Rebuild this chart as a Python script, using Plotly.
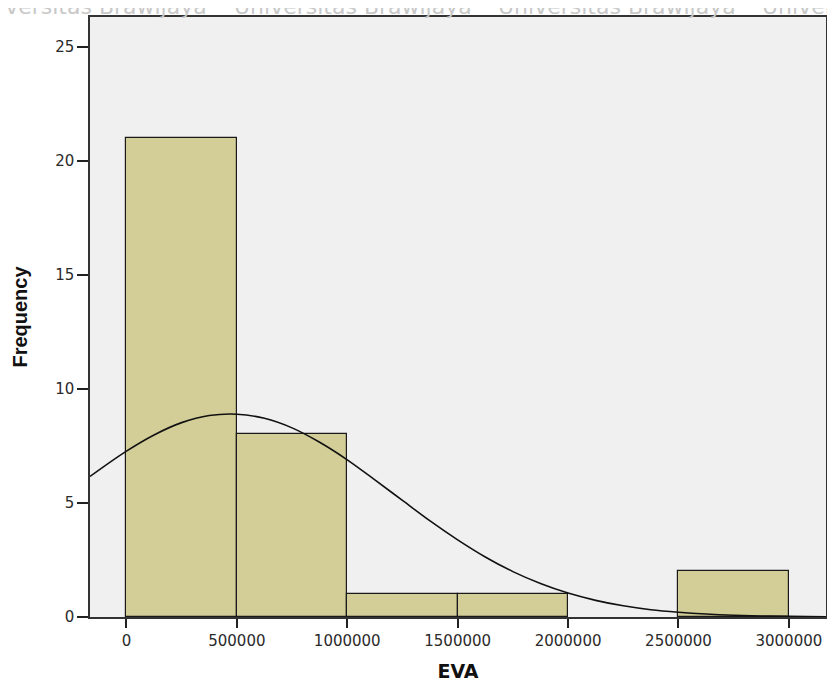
import plotly.graph_objects as go

# Histogram data (EVA)
bin_left = [0, 500000, 1000000, 1500000, 2000000, 2500000]
bin_width = 500000
counts = [21, 8, 1, 1, 0, 2]

# Normal curve points
curve_x = [-165000, 0, 125000, 250000, 375000, 500000, 625000, 750000, 875000,
           1000000, 1125000, 1250000, 1375000, 1500000, 1625000, 1750000, 1875000,
           2000000, 2125000, 2250000, 2375000, 2500000, 2625000, 2750000, 2875000,
           3000000, 3168000]
curve_y = [6.16, 7.27, 7.98, 8.52, 8.83, 8.89, 8.71, 8.29, 7.66,
           6.89, 6.01, 5.11, 4.21, 3.38, 2.63, 1.99, 1.47,
           1.05, 0.73, 0.49, 0.32, 0.21, 0.13, 0.077, 0.045,
           0.026, 0.011]

x_ticks = [0, 500000, 1000000, 1500000, 2000000, 2500000, 3000000]
x_tick_labels = [str(v) for v in x_ticks]
y_ticks = [0, 5, 10, 15, 20, 25]

watermark = "Universitas Brawijaya"
watermark_x = [-0.1667, 0.1924, 0.5515, 0.9106]

bar_x = [l + bin_width / 2 for l, c in zip(bin_left, counts) if c > 0]
bar_y = [c for c in counts if c > 0]

fig = go.Figure()
fig.add_trace(go.Bar(
    x=bar_x, y=bar_y, width=[bin_width] * len(bar_y),
    marker=dict(color="#D3CE97", line=dict(color="#1a1a1a", width=1.2)),
    hoverinfo="x+y", showlegend=False,
))
fig.add_trace(go.Scatter(
    x=curve_x, y=curve_y, mode="lines",
    line=dict(color="#111111", width=1.6, shape="spline"),
    showlegend=False, hoverinfo="skip",
))

tick_font = dict(family="DejaVu Sans, sans-serif", size=15, color="#2a2a2a")

fig.update_layout(
    width=827, height=678,
    margin=dict(l=82, r=7, t=9, b=68),
    paper_bgcolor="white", plot_bgcolor="#F0F0F0",
    bargap=0,
    xaxis=dict(
        range=[-165000, 3168000], tickvals=x_ticks, ticktext=x_tick_labels,
        showgrid=False, zeroline=False, showline=True, linecolor="#333333", linewidth=1.5,
        mirror=True, ticks="outside", ticklen=9, tickwidth=2, tickcolor="#222222",
        tickfont=tick_font,
        title=dict(text="<b>EVA</b>",
                   font=dict(family="DejaVu Sans, sans-serif", size=19, color="#111111"),
                   standoff=16),
    ),
    yaxis=dict(
        range=[0, 26.3], tickvals=y_ticks,
        showgrid=False, zeroline=False, showline=True, linecolor="#333333", linewidth=1.5,
        mirror=True, ticks="outside", ticklen=11, tickwidth=2, tickcolor="#222222",
        tickfont=tick_font,
        title=dict(text="<b>Frequency</b>",
                   font=dict(family="Liberation Sans, Arial, sans-serif",
                             size=20, color="#111111"),
                   standoff=22),
    ),
)

for xp in watermark_x:
    fig.add_annotation(
        text=watermark, xref="paper", yref="paper", x=xp, y=1.0183,
        xanchor="left", yanchor="middle", showarrow=False,
        font=dict(family="DejaVu Sans, sans-serif", size=22, color="#C8C8C8"),
    )

fig.write_html("out.html")
